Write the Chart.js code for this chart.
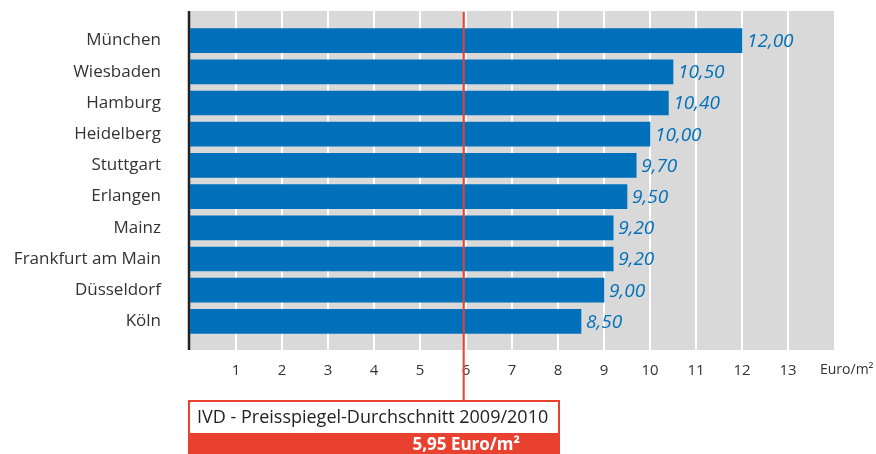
<!DOCTYPE html>
<html>
<head>
<meta charset="utf-8">
<script src="https://cdn.jsdelivr.net/npm/chart.js@4.4.0/dist/chart.umd.min.js"></script>
<style>
  html, body { margin: 0; padding: 0; background: #fff; }
  #wrap { width: 876px; height: 454px; position: relative; }
</style>
</head>
<body>
<div id="wrap"><canvas id="myChart"></canvas></div>
<script>
// Daten
const staedte = ["München", "Wiesbaden", "Hamburg", "Heidelberg", "Stuttgart", "Erlangen", "Mainz", "Frankfurt am Main", "Düsseldorf", "Köln"];
const mieten = [12.00, 10.50, 10.40, 10.00, 9.70, 9.50, 9.20, 9.20, 9.00, 8.50];
const durchschnitt = 5.95;
const achseMax = 14;
const einheit = "Euro/m²";
const boxTitel = "IVD - Preisspiegel-Durchschnitt 2009/2010";
const boxWert = "5,95 Euro/m²";

const blau = "#0070BA";
const grau = "#D9D9D9";
const rot = "#E8412F";
const schrift = '"Open Sans", "Noto Sans", sans-serif';

function komma(v) {
    return v.toFixed(2).replace(".", ",");
}

// Hintergrund, Gitter, Linie und Kasten
const deko = {
    id: "deko",
    beforeDatasetsDraw(chart) {
        const ctx = chart.ctx;
        const x = chart.scales.x;
        const area = chart.chartArea;
        const top = 11;
        const bottom = 350;
        ctx.save();
        ctx.fillStyle = grau;
        ctx.fillRect(area.left, top, area.right - area.left, bottom - top);
        ctx.strokeStyle = "#fff";
        ctx.lineWidth = 2;
        for (let i = 1; i < achseMax; i++) {
            const px = Math.round(x.getPixelForValue(i));
            ctx.beginPath();
            ctx.moveTo(px, top);
            ctx.lineTo(px, bottom);
            ctx.stroke();
        }
        // linke Achse
        ctx.strokeStyle = "#222";
        ctx.lineWidth = 2.5;
        ctx.beginPath();
        ctx.moveTo(area.left - 1, top);
        ctx.lineTo(area.left - 1, bottom);
        ctx.stroke();
        ctx.restore();
    },
    afterDatasetsDraw(chart) {
        const ctx = chart.ctx;
        const x = chart.scales.x;
        const area = chart.chartArea;
        const meta = chart.getDatasetMeta(0);
        ctx.save();
        // Werte
        ctx.font = "italic 19px " + schrift;
        ctx.fillStyle = blau;
        ctx.textAlign = "left";
        ctx.textBaseline = "middle";
        meta.data.forEach((bar, i) => {
            ctx.fillText(komma(mieten[i]), bar.x + 5, bar.y + 1);
        });

        // Durchschnittslinie
        const boxTop = 400;
        const lx = x.getPixelForValue(durchschnitt);
        ctx.strokeStyle = rot;
        ctx.lineWidth = 2;
        ctx.beginPath();
        ctx.moveTo(lx, 12);
        ctx.lineTo(lx, boxTop);
        ctx.stroke();

        // Kasten
        const bx = area.left - 2;
        const bw = 372;
        ctx.fillStyle = rot;
        ctx.fillRect(bx, boxTop, bw, chart.height - boxTop);
        ctx.fillStyle = "#fff";
        ctx.fillRect(bx + 2, boxTop + 2, bw - 4, 31);
        ctx.fillStyle = "#222";
        ctx.font = "18px " + schrift;
        ctx.textAlign = "left";
        ctx.fillText(boxTitel, bx + 9, boxTop + 18);
        ctx.fillStyle = "#fff";
        ctx.font = "bold 17px " + schrift;
        ctx.textAlign = "right";
        ctx.fillText(boxWert, bx + 332, boxTop + 45);

        // Einheit
        ctx.fillStyle = "#333";
        ctx.font = "14px " + schrift;
        ctx.textAlign = "left";
        ctx.fillText(einheit, area.right - 14, 370);
        ctx.restore();
    }
};

new Chart(document.getElementById("myChart"), {
    type: "bar",
    data: {
        labels: staedte,
        datasets: [{
            data: mieten,
            backgroundColor: blau,
            borderWidth: 0,
            barThickness: 24
        }]
    },
    options: {
        indexAxis: "y",
        responsive: true,
        maintainAspectRatio: false,
        animation: false,
        layout: {
            padding: { top: 25, right: 42, bottom: 0, left: 0 }
        },
        plugins: {
            legend: { display: false },
            tooltip: { enabled: false }
        },
        scales: {
            x: {
                min: 0,
                max: achseMax,
                grid: { display: false, drawTicks: false },
                border: { display: false },
                afterFit(scale) {
                    scale.height = 117;
                    scale.paddingLeft = 0;
                    scale.paddingRight = 0;
                },
                ticks: {
                    stepSize: 1,
                    padding: 25,
                    color: "#333",
                    font: { family: schrift, size: 15 },
                    callback: v => (v === 0 || v === achseMax) ? "" : v
                }
            },
            y: {
                grid: { display: false, drawTicks: false },
                border: { display: false },
                afterFit(scale) {
                    scale.width = 190;
                    scale.paddingTop = 0;
                    scale.paddingBottom = 0;
                },
                ticks: {
                    padding: 29,
                    color: "#333",
                    font: { family: schrift, size: 17 }
                }
            }
        }
    },
    plugins: [deko]
});
</script>
</body>
</html>
